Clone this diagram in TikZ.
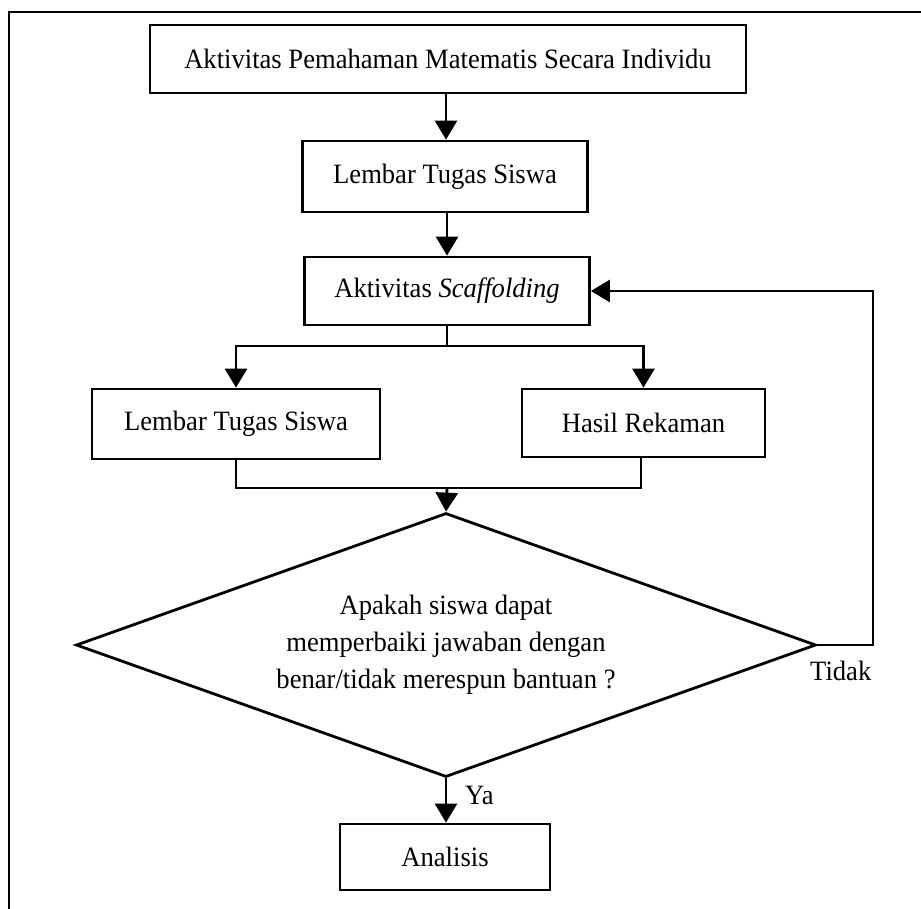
\documentclass[tikz,border=0pt]{standalone}
\usepackage{fontspec}
\setmainfont[FakeStretch=0.95]{Liberation Serif}
\usetikzlibrary{arrows.meta,shapes.geometric}
\begin{document}
\begin{tikzpicture}[x=1pt,y=-1pt,
  every node/.style={font=\fontsize{28}{37}\selectfont},
  stepbox/.style={draw,line width=2.8pt,rectangle,inner sep=0pt,align=center},
  decision/.style={draw,line width=2.8pt,diamond,inner sep=0pt,aspect=2.8,
    minimum width=740pt,minimum height=264pt,align=center},
  conn/.style={line width=2.8pt},
  arr/.style={line width=2.8pt,-{Triangle[length=19pt,width=22pt]}},
  lbl/.style={inner sep=0pt}]
\useasboundingbox (0,0) rectangle (921,908);
% outer frame (only top and left edges visible)
\coordinate (fbl) at (9,912);
\coordinate (ftl) at (9,12);
\coordinate (ftr) at (925,12);
\draw[line width=2.8pt] (fbl) -- (ftl) -- (ftr);

\node[stepbox,minimum width=596pt,minimum height=68pt] (b1) at (448,59)
  {Aktivitas Pemahaman Matematis Secara Individu};
\node[stepbox,minimum width=285pt,minimum height=71pt] (b2) at (445,176.5)
  {Lembar Tugas Siswa};
\node[stepbox,minimum width=285pt,minimum height=68pt] (b3) at (447,291)
  {Aktivitas \textit{Scaffolding}};
\node[stepbox,minimum width=288pt,minimum height=70pt] (b4) at (236,424)
  {Lembar Tugas Siswa};
\node[stepbox,minimum width=243pt,minimum height=68pt] (b5) at (643.5,423)
  {Hasil Rekaman};
\node[decision] (d) at (446,645)
  {Apakah siswa dapat\\memperbaiki jawaban dengan\\benar/tidak merespun bantuan ?};
\node[stepbox,minimum width=210pt,minimum height=66pt] (b6) at (445,857)
  {Analisis};
\node[lbl,anchor=west] (tidak) at (810,671) {Tidak};
\node[lbl,anchor=west] (ya) at (465,795) {Ya};

\coordinate (split) at (447,346);
\coordinate (join) at (447,488);
\coordinate (loop) at (873,645);

\draw[arr] (b1.south -| 446,0) -- (b2.north -| 446,0);
\draw[arr] (b2.south -| 447,0) -- (b3.north -| 447,0);
\draw[conn] (b3.south) -- (split);
\draw[arr] (split) -| (b4.north);
\draw[arr] (split) -| (b5.north);
\draw[conn] (b4.south) |- (join);
\draw[conn] (b5.south -| 641,0) |- (join);
\draw[arr] (join) -- (d.north);
\draw[arr] (d.south) -- (b6.north -| d.south);
\draw[arr] (d.east) -- (loop) |- (b3.east);
\end{tikzpicture}
\end{document}
